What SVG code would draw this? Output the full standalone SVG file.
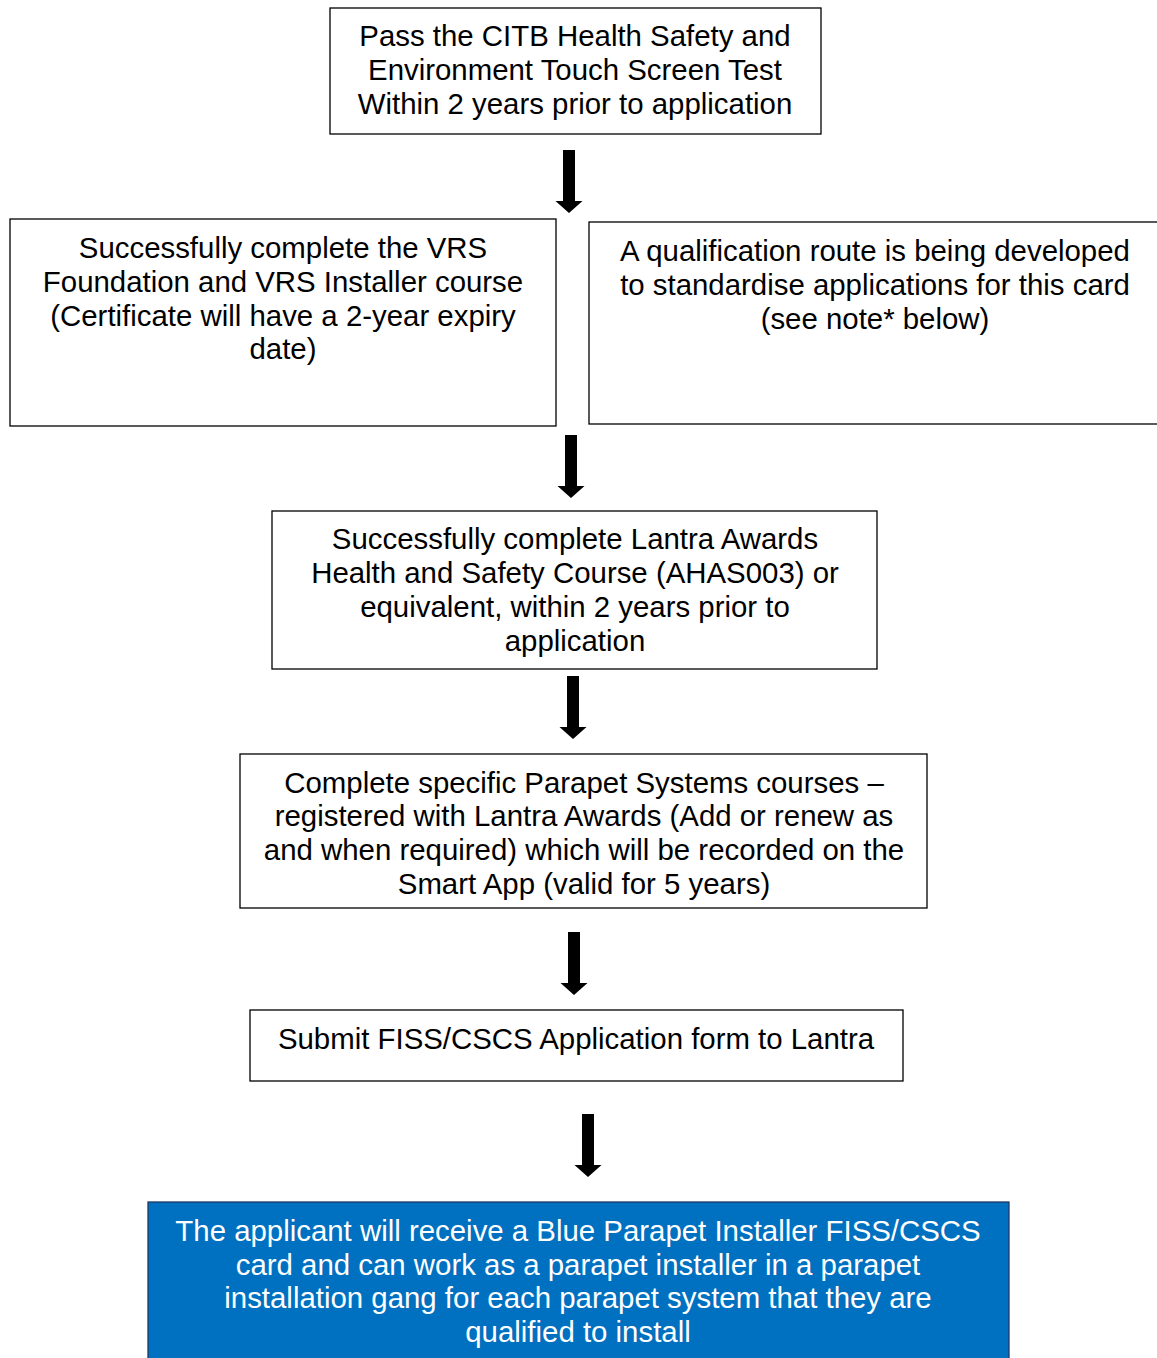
<svg xmlns="http://www.w3.org/2000/svg" width="1157" height="1358" viewBox="0 0 1157 1358">
<style>
.box{fill:#fff;stroke:#000;stroke-width:1.3}
.blue{fill:#0070C0;stroke:#1f3864;stroke-width:1.3}
text{font-family:"Liberation Sans",Arial,sans-serif;font-size:29.4px;text-anchor:middle;fill:#000}
.w{fill:#fff}
.arr{fill:#000}
</style>
<defs>
<path id="arrow" d="M-6,0 H6 V51 H13.5 L0,63 L-13.5,51 H-6 Z"/>
</defs>
<rect width="1157" height="1358" fill="#fff"/>
<g id="connectors">
<use href="#arrow" class="arr" x="569" y="150"/>
<use href="#arrow" class="arr" x="571" y="435"/>
<use href="#arrow" class="arr" x="573" y="676"/>
<use href="#arrow" class="arr" x="574" y="932"/>
<use href="#arrow" class="arr" x="588" y="1114"/>
</g>
<g id="n1">
<rect class="box" x="330" y="8" width="491" height="126"/>
<text x="575" y="46">Pass the CITB Health Safety and</text>
<text x="575" y="80">Environment Touch Screen Test</text>
<text x="575" y="114">Within 2 years prior to application</text>
</g>
<g id="n2">
<rect class="box" x="10" y="219" width="546" height="207"/>
<text x="283" y="258">Successfully complete the VRS</text>
<text x="283" y="292">Foundation and VRS Installer course</text>
<text x="283" y="326">(Certificate will have a 2-year expiry</text>
<text x="283" y="359">date)</text>
</g>
<g id="n3">
<rect class="box" x="589" y="222" width="580" height="202"/>
<text x="875" y="261">A qualification route is being developed</text>
<text x="875" y="295">to standardise applications for this card</text>
<text x="875" y="329">(see note* below)</text>
</g>
<g id="n4">
<rect class="box" x="272" y="511" width="605" height="158"/>
<text x="575" y="549">Successfully complete Lantra Awards</text>
<text x="575" y="583">Health and Safety Course (AHAS003) or</text>
<text x="575" y="617">equivalent, within 2 years prior to</text>
<text x="575" y="651">application</text>
</g>
<g id="n5">
<rect class="box" x="240" y="754" width="687" height="154"/>
<text x="584" y="793">Complete specific Parapet Systems courses –</text>
<text x="584" y="826">registered with Lantra Awards (Add or renew as</text>
<text x="584" y="860">and when required) which will be recorded on the</text>
<text x="584" y="894">Smart App (valid for 5 years)</text>
</g>
<g id="n6">
<rect class="box" x="250" y="1010" width="653" height="71"/>
<text x="576" y="1049">Submit FISS/CSCS Application form to Lantra</text>
</g>
<g id="n7">
<rect class="blue" x="148" y="1202" width="861" height="170"/>
<text class="w" x="578" y="1241">The applicant will receive a Blue Parapet Installer FISS/CSCS</text>
<text class="w" x="578" y="1275">card and can work as a parapet installer in a parapet</text>
<text class="w" x="578" y="1308">installation gang for each parapet system that they are</text>
<text class="w" x="578" y="1342">qualified to install</text>
</g>
</svg>
